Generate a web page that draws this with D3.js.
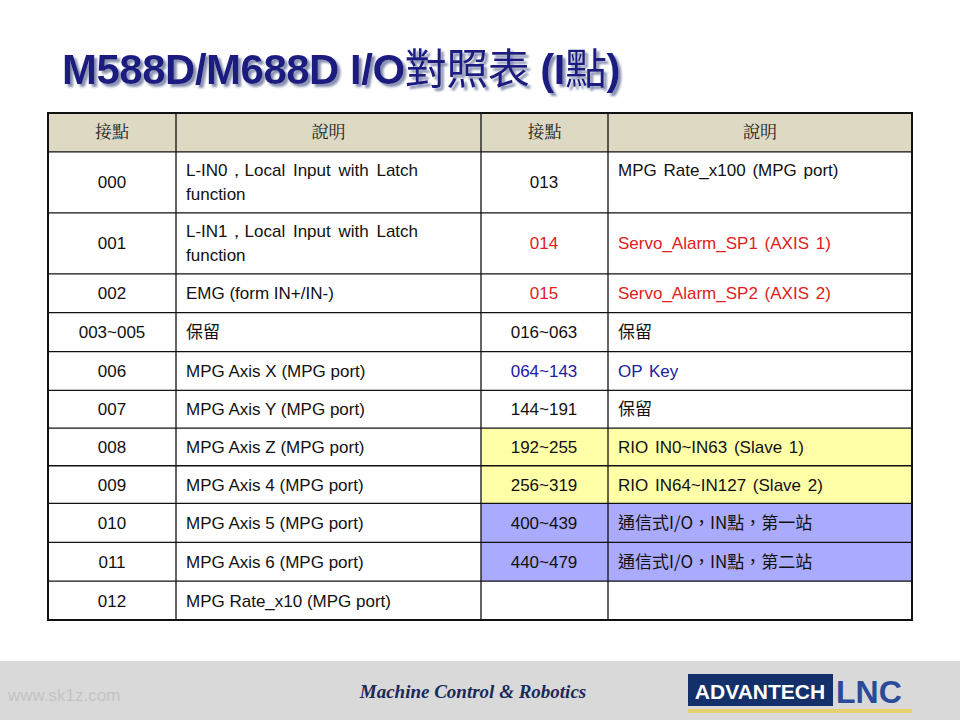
<!DOCTYPE html>
<html><head><meta charset="utf-8">
<script src="https://cdn.jsdelivr.net/npm/d3@7"></script>
<style>body{margin:0;background:#fff}</style>
</head><body>
<svg width="960" height="720"></svg>
<script>
// table content
const headers = ["接點", "說明", "接點", "說明"];
const leftPoints = ["000", "001", "002", "003~005", "006", "007", "008", "009", "010", "011", "012"];
const leftDesc = [
  ["L-IN0，Local Input with Latch", "function"],
  ["L-IN1，Local Input with Latch", "function"],
  ["EMG (form IN+/IN-)"], ["保留"], ["MPG Axis X (MPG port)"], ["MPG Axis Y (MPG port)"],
  ["MPG Axis Z (MPG port)"], ["MPG Axis 4 (MPG port)"], ["MPG Axis 5 (MPG port)"],
  ["MPG Axis 6 (MPG port)"], ["MPG Rate_x10 (MPG port)"]
];
const rightPoints = ["013", "014", "015", "016~063", "064~143", "144~191", "192~255", "256~319", "400~439", "440~479", ""];
const rightDesc = ["MPG Rate_x100 (MPG port)", "Servo_Alarm_SP1 (AXIS 1)", "Servo_Alarm_SP2 (AXIS 2)", "保留", "OP Key", "保留",
  "RIO IN0~IN63 (Slave 1)", "RIO IN64~IN127 (Slave 2)", "通信式I/O，IN點，第一站", "通信式I/O，IN點，第二站", ""];
const rightKind = ["", "red", "red", "", "blue", "", "yellow", "yellow", "violet", "violet", ""];
const rowUnits = [1, 1.57, 1.57, 1, 1, 1, 0.97, 0.97, 0.97, 1, 1, 1];

const svg = d3.select("svg");
const font = "'Liberation Sans', Arial, sans-serif";
const cjk = "'Noto Sans CJK TC', sans-serif";

const defs = svg.append("defs");
defs.append("filter").attr("id", "sh").append("feDropShadow")
  .attr("dx", 3).attr("dy", 3).attr("stdDeviation", 0.8).attr("flood-color", "#8890b0");

// footer
svg.append("rect").attr("x", 0).attr("y", 661).attr("width", 960).attr("height", 59).attr("fill", "#d9d9d9");
svg.append("text").attr("x", 8).attr("y", 701).attr("font-family", font).attr("font-size", 17).attr("fill", "#c4c4c4").text("www.sk1z.com");
svg.append("text").attr("x", 473).attr("y", 698).attr("text-anchor", "middle").attr("font-family", "'Liberation Serif', serif")
  .attr("font-style", "italic").attr("font-weight", "bold").attr("font-size", 19).attr("fill", "#1a2a5a").text("Machine Control & Robotics");
svg.append("rect").attr("x", 688).attr("y", 674).attr("width", 145).attr("height", 32).attr("fill", "#13306b");
svg.append("text").attr("x", 760).attr("y", 699).attr("text-anchor", "middle").attr("font-family", font).attr("font-weight", "bold")
  .attr("font-size", 21).attr("fill", "#fff").text("ADVANTECH");
svg.append("text").attr("x", 836).attr("y", 703).attr("font-family", font).attr("font-weight", "bold")
  .attr("font-size", 32).attr("fill", "#2a4a9a").text("LNC");
svg.append("rect").attr("x", 688).attr("y", 709).attr("width", 224).attr("height", 4).attr("fill", "#e8cf70");

// title
const t = svg.append("text").attr("x", 62).attr("y", 84).attr("font-family", font).attr("font-weight", "bold")
  .attr("font-size", 42).attr("letter-spacing", -0.5).attr("fill", "#1c1c80").attr("filter", "url(#sh)");
t.append("tspan").text("M588D/M688D I/O");
t.append("tspan").attr("font-family", cjk).attr("font-weight", "normal").text("對照表");
t.append("tspan").text(" (I");
t.append("tspan").attr("font-family", cjk).attr("font-weight", "normal").text("點");
t.append("tspan").text(")");

// table
const colEdges = [48, 176, 481, 608, 912];
const cum = [0];
rowUnits.forEach(u => cum.push(cum[cum.length - 1] + u));
const y = d3.scaleLinear().domain([0, cum[cum.length - 1]]).range([113, 620]);
const fills = {yellow: "#ffffa8", violet: "#aaaaff"};
const colors = {red: "#e02020", blue: "#2020a0"};

const g = svg.append("g");
// header
g.append("rect").attr("x", 48).attr("y", y(0)).attr("width", 864).attr("height", y(1) - y(0)).attr("fill", "#ddd9c3");
headers.forEach((h, i) => {
  g.append("text").attr("x", (colEdges[i] + colEdges[i + 1]) / 2).attr("y", (y(0) + y(1)) / 2 + 6)
    .attr("text-anchor", "middle").attr("font-family", "'Noto Serif CJK TC', serif").attr("font-size", 17).attr("fill", "#222").text(h);
});

leftPoints.forEach((p, i) => {
  const y0 = y(cum[i + 1]), y1 = y(cum[i + 2]), mid = (y0 + y1) / 2;
  const k = rightKind[i];
  if (fills[k]) g.append("rect").attr("x", 481).attr("y", y0).attr("width", 431).attr("height", y1 - y0).attr("fill", fills[k]);
  const c = colors[k] || "#111";
  g.append("text").attr("x", 112).attr("y", mid + 6).attr("text-anchor", "middle").attr("font-family", font).attr("font-size", 17).attr("fill", "#111").text(p);
  const ld = leftDesc[i];
  ld.forEach((line, j) => {
    const ty = ld.length === 1 ? mid + 6 : y0 + 24 + j * 24;
    const tt = g.append("text").attr("x", 186).attr("y", ty).attr("font-family", /保留/.test(line) ? cjk : font).attr("font-size", 17).attr("fill", "#111").text(line);
    if (ld.length > 1 && j === 0) tt.attr("word-spacing", 3);
  });
  g.append("text").attr("x", 544).attr("y", mid + 6).attr("text-anchor", "middle").attr("font-family", font).attr("font-size", 17).attr("fill", c).text(rightPoints[i]);
  const rty = i === 0 ? y0 + 24 : mid + 6;
  g.append("text").attr("x", 618).attr("y", rty).attr("font-family", /[\u4e00-\u9fff]/.test(rightDesc[i]) ? cjk : font)
    .attr("font-size", 17).attr("fill", c).attr("word-spacing", 2).text(rightDesc[i]);
});

// grid lines
cum.forEach(v => g.append("line").attr("x1", 47).attr("x2", 913).attr("y1", y(v)).attr("y2", y(v)).attr("stroke", "#111").attr("stroke-width", v === 0 || v === cum[cum.length-1] ? 2 : 1.3));
colEdges.forEach((x, i) => g.append("line").attr("x1", x).attr("x2", x).attr("y1", 113).attr("y2", 620).attr("stroke", "#111").attr("stroke-width", i === 0 || i === 4 ? 2 : 1.3));
</script>
</body></html>
